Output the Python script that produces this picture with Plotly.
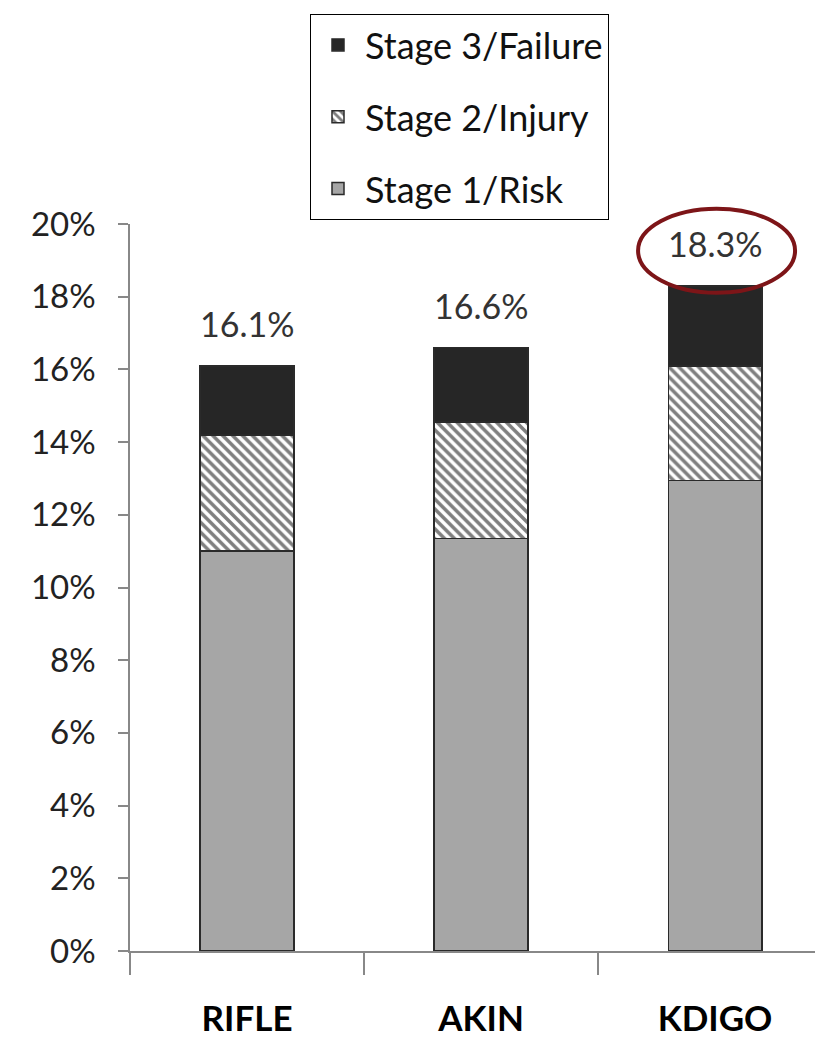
import plotly.graph_objects as go

categories = ["RIFLE", "AKIN", "KDIGO"]
stage1_risk = [11.0, 11.35, 12.95]
stage2_injury = [3.2, 3.2, 3.15]
stage3_failure = [1.9, 2.05, 2.2]
totals = [16.1, 16.6, 18.3]
total_labels = ["16.1%", "16.6%", "18.3%"]
y_ticks = [0, 2, 4, 6, 8, 10, 12, 14, 16, 18, 20]
y_tick_labels = [f"{v}%" for v in y_ticks]

FONT = "Lato"
Y_MAX = 20
outline = dict(color="#2a2a2a", width=1.5)

fig = go.Figure()
fig.add_trace(go.Bar(
    x=categories, y=stage1_risk, name="Stage 1/Risk", legendgroup="g1", legendrank=3,
    marker=dict(color="#a6a6a6", line=outline), width=0.4,
))
fig.add_trace(go.Bar(
    x=categories, y=stage2_injury, name="Stage 2/Injury", legendgroup="g2", legendrank=2,
    marker=dict(color="white", line=outline,
                pattern=dict(shape="\\", fgcolor="#000000", bgcolor="white",
                             size=7, solidity=0.5)),
    width=0.4,
))
fig.add_trace(go.Bar(
    x=categories, y=stage3_failure, name="Stage 3/Failure", legendgroup="g3", legendrank=1,
    marker=dict(color="#262626", line=outline), width=0.4,
))

for c, t, lab in zip(categories, totals, total_labels):
    fig.add_annotation(x=c, y=t, text=lab, showarrow=False, yanchor="bottom",
                       yshift=20, font=dict(family=FONT, size=34, color="#333333"))

# highlight ellipse around the KDIGO total
k = categories.index("KDIGO")
fig.add_shape(type="circle", xref="x", yref="paper", xsizemode="pixel", ysizemode="pixel",
              xanchor=categories[k], yanchor=totals[k] / Y_MAX, x0=-77, x1=80, y0=-7, y1=77,
              line=dict(color="#7d1518", width=4))

fig.update_layout(
    width=815, height=1041,
    barmode="stack",
    plot_bgcolor="white", paper_bgcolor="white",
    margin=dict(l=130, r=0, t=224, b=90),
    font=dict(family=FONT, color="#222222"),
    legend=dict(
        x=(310 - 130) / 685, y=1 + (224 - 117) / 727, xref="paper", yref="paper",
        xanchor="left", yanchor="middle",
        bordercolor="black", borderwidth=1, bgcolor="white",
        font=dict(family=FONT, size=36, color="#111111"),
        traceorder="grouped", tracegroupgap=22, itemwidth=44,
    ),
    xaxis=dict(
        range=[-0.5, 2.427], showline=True, linecolor="#888888", linewidth=1.5,
        ticks="outside", tickson="boundaries", ticklen=22, tickcolor="#888888",
        tickwidth=1.5, ticklabelstandoff=36, automargin=False,
        tickfont=dict(family=FONT, size=35, color="black", weight="bold"),
        showgrid=False, zeroline=False,
    ),
    yaxis=dict(
        range=[0, Y_MAX], tickvals=y_ticks, ticktext=y_tick_labels,
        showline=True, linecolor="#888888", linewidth=1.5,
        ticks="outside", ticklen=10, tickcolor="#888888", tickwidth=1.5,
        ticklabelstandoff=16, automargin=False,
        tickfont=dict(family=FONT, size=33, color="#222222"),
        showgrid=False, zeroline=False,
    ),
)

fig.write_html("out.html")
